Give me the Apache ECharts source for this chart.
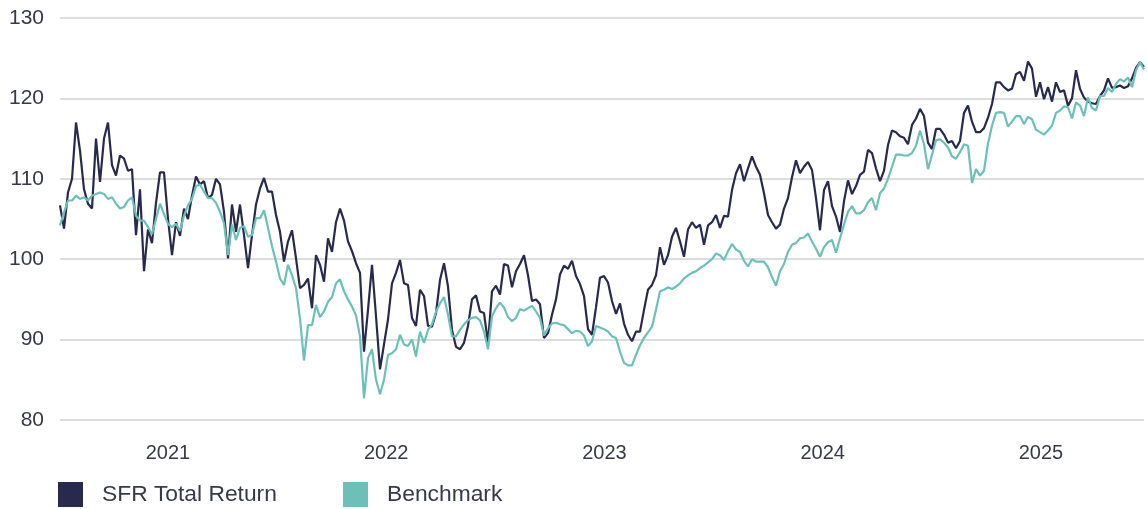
<!DOCTYPE html>
<html>
<head>
<meta charset="utf-8">
<script src="https://cdn.jsdelivr.net/npm/echarts@6/dist/echarts.min.js"></script>
<style>
html,body{margin:0;padding:0;background:#fff;}
#chart{width:1147px;height:509px;}
</style>
</head>
<body>
<div id="chart"></div>
<script>
// Time in decimal years; one sample roughly every 6.7 days
const startYear = 2020.5052;
const stepYear = 0.0183276;
const yearLabels = [2021, 2022, 2023, 2024, 2025];
const yTicks = [80, 90, 100, 110, 120, 130];
const seriesNames = ['SFR Total Return', 'Benchmark'];

const sfr = [
106.7,103.8,108.3,110,117,113.5,108.7,106.9,106.3,115,109.6,115,117,111.7,110.4,112.9,112.5,111,111.2,103,108.7,98.5,103.7,102,107,110.8,110.8,105,100.5,104.6,102.9,106.3,105,107.9,110.3,
109.3,109.7,107.6,108,110,109.3,105.9,100.1,106.8,103.4,106.8,103,98.9,103,106.8,108.8,110.1,108.4,108.4,105.5,103.4,99.7,102.2,103.6,100.1,96.4,96.8,97.6,93.9,100.5,99.3,97.2,102.6,100.9,104.6,
106.3,104.8,102.2,101,99.5,98.3,88.5,93.7,99.3,92.9,86.3,89.4,92.5,97,98.3,99.9,97,96.8,92.7,91.7,96.2,95.4,91.7,91.6,93.3,97.4,99.5,96.6,91.2,89.1,88.8,89.6,91.7,95,95.5,
93.5,93.3,89.6,96,96.7,95.6,99.4,99.2,96.5,98.5,99.4,100.5,98,94.8,95,94.4,90.2,90.8,93.1,95,98.1,99.2,98.8,99.8,97.9,96.9,95.4,91.3,90.6,94,97.7,97.9,97.1,94.8,93.2,
94.5,92,90.6,89.8,91,91,93.7,96.2,96.8,98,101.5,99.3,100.5,102.8,103.9,102.2,100.3,103.7,104.6,103.9,104.3,101.8,104.2,104.6,105.5,103.9,105.4,105.3,108.6,110.7,111.8,109.7,111.3,112.8,111.5,
110.5,108.2,105.5,104.6,103.8,104.3,106.3,107.6,110.2,112.3,110.7,111.5,112.1,111.1,107.6,103.6,108.6,109.7,106.6,105.3,103.4,107.2,109.8,108.1,109.1,110.5,110.9,113.6,113.2,111.3,109.7,111,114.2,116,115.8,
115.3,115.1,114.3,116.7,117.5,118.7,117.8,114.5,113.7,116.2,116.2,115.5,114.5,114.7,113.8,114.7,118.2,119.1,117.1,115.8,115.8,116.3,117.6,119.3,122,122,121.4,121,121.2,123,123.3,122.2,124.6,123.7,120.2,
122,119.9,121.4,119.6,122,120.8,121,119.1,120,123.5,121.2,120.1,119.6,119.4,119.3,120.3,121,122.5,121.3,121.4,121.6,121.3,121.5,122.5,123.8,124.5,123.9
];

const benchmark = [
104.2,105.8,107.3,107.3,107.9,107.5,107.7,107.3,107.9,108.1,108.3,108.1,107.5,107.7,106.9,106.3,106.5,107.3,107.7,105.4,104.8,104.8,104,103.1,105,106.9,105.6,104.4,104,104.4,103.5,105.4,106.7,107.5,109.1,
109.3,108.4,107.6,107.6,107,105.9,104.5,100.5,104.3,102.4,103.9,104.1,102.8,103,105.1,105.1,106.1,103.9,101.6,99.7,97.6,96.8,99.3,98,96.4,92.6,87.4,91.8,91.8,94.3,92.8,93.5,94.7,95.3,97,
97.5,96,95,94.1,93,90.4,82.7,87.7,88.8,85,83.2,85,88.1,88.3,88.8,90.6,89.4,89.2,90,87.9,91,89.6,91.2,91.9,93.5,94.5,95.3,93.1,90.4,90.4,91.2,91.9,92.4,92.7,92.8,
92.4,91,88.8,92.9,93.9,94.6,94,92.8,92.3,92.7,93.8,93.6,93.9,94.2,93.5,92.7,90.5,91.4,92,92.1,91.9,91.8,91.3,90.8,91.1,91,90.5,89.2,89.8,91.7,91.5,91.3,91,90.4,90.2,
88.5,87.1,86.8,86.8,88.1,89.3,90.2,90.9,91.6,93.7,96,96.2,96.5,96.3,96.6,97,97.6,98,98.3,98.5,98.9,99.2,99.6,100,100.7,100.5,99.9,101,101.9,101.2,100.9,99.8,99.1,100,99.7,
99.7,99.7,99,97.8,96.7,98.5,99.4,100.9,101.8,102,102.6,102.7,103.2,102.2,101.3,100.3,101.5,102.1,102.4,100.8,102.6,104.3,105.9,106.6,105.7,105.7,106.1,107.1,107.6,106.1,108.2,108.8,110,111.5,113,
113,112.9,112.9,113.2,114.1,116,114.3,111.2,113,114.8,114.9,114.5,113.9,112.8,112.5,113.3,114.3,114.1,109.5,111.2,110.4,111,114.4,116.6,118.2,118.3,118.2,116.5,117.1,117.8,117.8,116.8,117.7,117.4,116.1,
115.8,115.5,116,116.6,118.2,118.5,119,118.9,117.5,119.5,119.1,117.8,120.1,118.8,118.5,120.3,120.3,121.3,120.8,121.8,122.4,122.1,122.6,121.4,123.5,124.5,123.6
];

const times = sfr.map((_, i) => startYear + i * stepYear);
const pair = arr => arr.map((v, i) => [times[i], v]);

const textColor = '#383948';
const fontFamily = '"Liberation Sans", Arial, Helvetica, sans-serif';
const colors = ['#272a4c', '#6cc0b8'];

const legendBase = {
  top: 482, icon: 'rect', padding: 0,
  itemWidth: 25, itemHeight: 25, selectedMode: false,
  textStyle: {fontSize: 22.8, color: textColor, fontFamily: fontFamily, padding: [0, 0, 0, 14]}
};

const chart = echarts.init(document.getElementById('chart'), null, {renderer: 'canvas'});
chart.setOption({
  animation: false,
  backgroundColor: '#ffffff',
  grid: {left: 60, right: 3, top: 18, bottom: 89, containLabel: false},
  legend: [
    Object.assign({}, legendBase, {data: [seriesNames[0]], left: 58}),
    Object.assign({}, legendBase, {data: [seriesNames[1]], left: 343})
  ],
  xAxis: {
    type: 'value',
    min: times[0],
    max: times[times.length - 1],
    axisLine: {show: false},
    axisTick: {show: false},
    splitLine: {show: false},
    axisLabel: {
      customValues: yearLabels,
      formatter: v => String(Math.round(v)),
      fontSize: 20, color: textColor, fontFamily: fontFamily, margin: 23
    }
  },
  yAxis: {
    type: 'value',
    min: yTicks[0], max: yTicks[yTicks.length - 1], interval: 10,
    axisLine: {show: false},
    axisTick: {show: false},
    splitLine: {show: true, lineStyle: {color: '#d2d2d2', width: 1.5}},
    axisLabel: {fontSize: 21, color: textColor, fontFamily: fontFamily, margin: 16}
  },
  series: [
    {
      name: seriesNames[0], type: 'line', data: pair(sfr), showSymbol: false, symbol: 'none',
      lineStyle: {color: colors[0], width: 2.2}, itemStyle: {color: colors[0]}, z: 2
    },
    {
      name: seriesNames[1], type: 'line', data: pair(benchmark), showSymbol: false, symbol: 'none',
      lineStyle: {color: colors[1], width: 2.2}, itemStyle: {color: colors[1]}, z: 3
    }
  ]
});
</script>
</body>
</html>
